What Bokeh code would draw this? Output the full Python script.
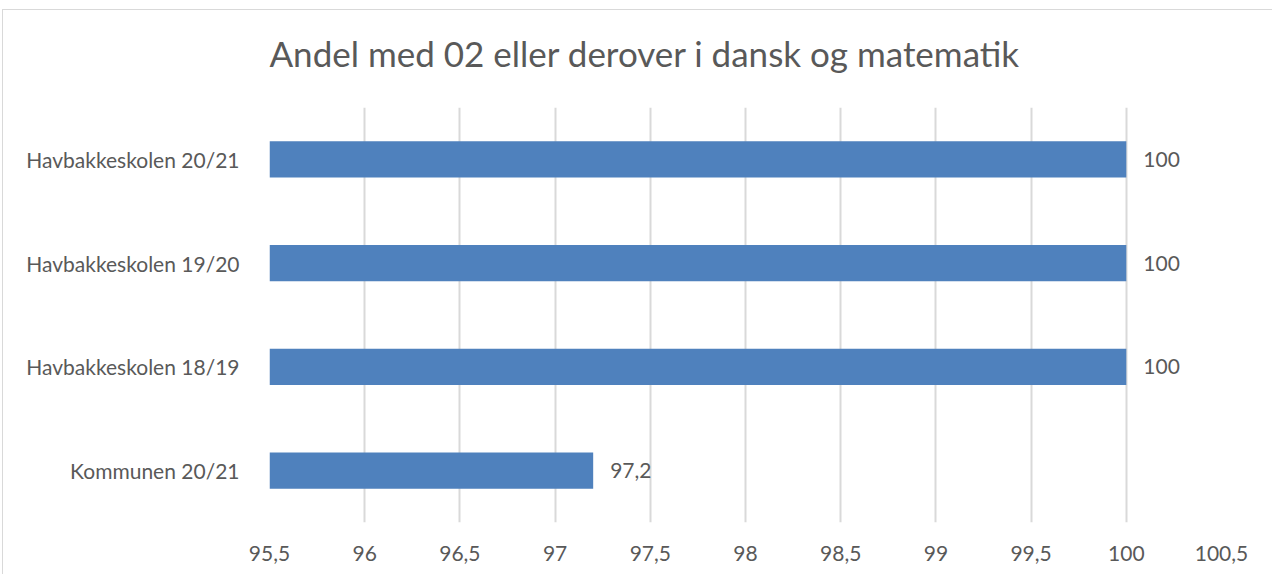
from bokeh.plotting import figure
from bokeh.models import ColumnDataSource, FixedTicker, Range1d, Title
from bokeh.core.properties import value
from bokeh.embed import file_html
from bokeh.resources import INLINE

categories = ["Kommunen 20/21", "Havbakkeskolen 18/19", "Havbakkeskolen 19/20", "Havbakkeskolen 20/21"]
values = [97.2, 100, 100, 100]
value_labels = ["97,2", "100", "100", "100"]
tick_values = [95.5, 96, 96.5, 97, 97.5, 98, 98.5, 99, 99.5, 100, 100.5]
tick_labels = ["95,5", "96", "96,5", "97", "97,5", "98", "98,5", "99", "99,5", "100", "100,5"]
title_text = "Andel med 02 eller derover i dansk og matematik"

x_min, x_max = tick_values[0], tick_values[-1]
GRAY = "#595959"
FONT = "Lato"

source = ColumnDataSource(dict(cat=categories, val=values, lbl=value_labels,
                               base=[x_min] * len(values)))

p = figure(width=1270, height=565, y_range=categories,
           x_range=Range1d(x_min, x_max),
           output_backend="svg", toolbar_location=None,
           min_border_left=266, min_border_right=52,
           min_border_top=97, min_border_bottom=53)

p.title.text = title_text
p.title.align = "left"
p.title.text_font = FONT
p.title.text_font_size = "35px"
p.title.text_font_style = "normal"
p.title.text_color = GRAY
p.title.standoff = 0

# spacer title between the real title and the plot area
spacer = Title(text=" ", text_font_size="1px", standoff=31)
p.add_layout(spacer, "above")

p.hbar(y="cat", left="base", right="val", height=0.35, source=source,
       fill_color="#4F81BD", line_color=None)
p.text(x="val", y="cat", text="lbl", source=source, x_offset=17,
       text_align="left", text_baseline="middle", text_font=value(FONT),
       text_font_size="21px", text_color=GRAY)

p.xaxis.ticker = FixedTicker(ticks=tick_values)
p.xaxis.major_label_overrides = {t: l for t, l in zip(tick_values, tick_labels)}
for ax in (p.xaxis[0], p.yaxis[0]):
    ax.axis_line_color = None
    ax.major_tick_line_color = None
    ax.minor_tick_line_color = None
    ax.major_label_text_font = FONT
    ax.major_label_text_font_size = "21px"
    ax.major_label_text_color = GRAY
p.xaxis.major_label_standoff = 17
p.yaxis.major_label_standoff = 24

p.xgrid.grid_line_color = "#d9d9d9"
p.xgrid.grid_line_width = 2
p.ygrid.grid_line_color = None
p.outline_line_color = None
p.styles = {"border-left": "1px solid #d9d9d9", "border-top": "1px solid #d9d9d9",
            "margin-left": "2px", "margin-top": "9px"}

open("out.html", "w").write(file_html(p, INLINE))
